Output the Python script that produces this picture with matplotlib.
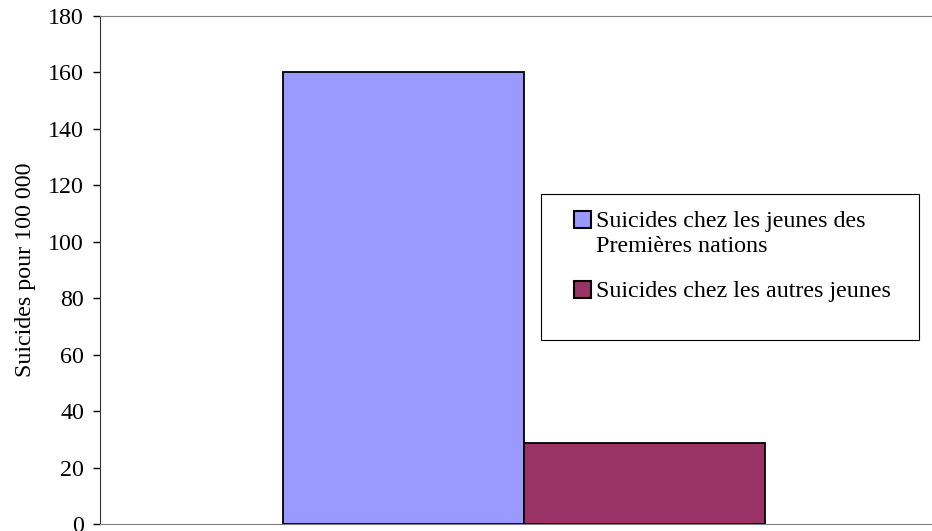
import matplotlib.pyplot as plt
from matplotlib.patches import Patch, Rectangle
from matplotlib.legend_handler import HandlerPatch

# données
series = ["Suicides chez les jeunes des\nPremières nations", "Suicides chez les autres jeunes"]
taux = [160, 28.6]
couleurs = ["#9999ff", "#993366"]
yticks = [0, 20, 40, 60, 80, 100, 120, 140, 160, 180]


def carre(dy):
    # petit carré de légende, décalé verticalement (en points)
    def f(legend, orig_handle, xdescent, ydescent, width, height, fontsize):
        return Rectangle((-xdescent, -ydescent + dy), width, height)
    return HandlerPatch(patch_func=f)


def main():
    plt.rcParams['font.family'] = ['Liberation Serif', 'DejaVu Serif']

    fig = plt.figure(figsize=(9.32, 5.31), dpi=100)
    ax = fig.add_axes([100 / 932, 7 / 531, 831 / 932, 508 / 531])

    ax.bar(range(len(taux)), taux, width=1.0, align='edge',
           color=couleurs, edgecolor='black', linewidth=1.3)

    ax.set_xlim(-0.759, 2.689)
    ax.set_ylim(0, 180)
    ax.set_yticks(yticks)
    ax.set_xticks([])
    ax.tick_params(axis='y', direction='out', length=5, width=1, labelsize=17.3, pad=6.5)
    ax.set_ylabel("Suicides pour 100 000", fontsize=17.3, labelpad=9)

    ax.spines['left'].set_color('#333333')
    ax.spines['top'].set_color('#808080')
    ax.spines['bottom'].set_color('#808080')
    ax.spines['right'].set_visible(False)

    # cadre de la légende
    ax.add_patch(Rectangle((0.531, 0.362), 0.455, 0.288, transform=ax.transAxes,
                           facecolor='white', edgecolor='black', linewidth=0.8, zorder=3))

    handles = [Patch(facecolor=c, edgecolor='black', linewidth=1.5) for c in couleurs]
    leg = ax.legend(handles, series, loc='upper left',
                    bbox_to_anchor=(0.5704, 0.617), frameon=False,
                    fontsize=17.3, borderaxespad=0, borderpad=0,
                    handlelength=0.71, handleheight=0.71, handletextpad=0.2,
                    labelspacing=1.0,
                    handler_map={handles[0]: carre(9.7), handles[1]: carre(-0.5)})
    leg.set_zorder(4)
    for t in leg.get_texts():
        t.set_linespacing(1.25)

    fig.savefig("out.png", dpi=100)


if __name__ == "__main__":
    main()
